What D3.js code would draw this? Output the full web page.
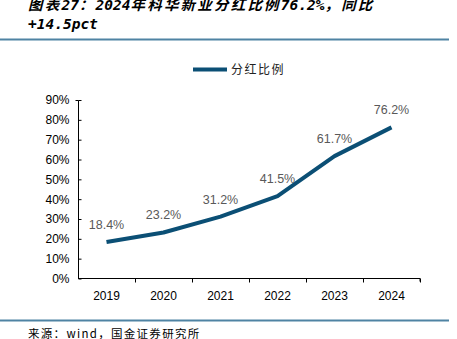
<!DOCTYPE html>
<html><head><meta charset="utf-8">
<script src="https://cdn.jsdelivr.net/npm/d3@7/dist/d3.min.js"></script>
<style>body{margin:0;background:#fff}svg{display:block}</style>
</head><body><svg id="c" width="457" height="339"></svg>
<script>
const categories = ["2019","2020","2021","2022","2023","2024"];
const values = [18.4, 23.2, 31.2, 41.5, 61.7, 76.2];
const yTicks = [0,10,20,30,40,50,60,70,80,90];
const seriesName = "分红比例";
const titleLines = ["图表27：2024年科华新业分红比例76.2%，同比", "+14.5pct"];
const source = "来源：wind，国金证券研究所";

const svg = d3.select("#c");
const x = d3.scaleBand().domain(categories).range([78, 420]);
const y = d3.scaleLinear().domain([0, 90]).range([278.5, 100]);

// title, split into CJK / latin runs
function runs(s) {
  const out = []; let cur = "", cjk = null;
  for (const ch of s) {
    const isC = /[^\x00-\x7f]/.test(ch);
    if (cjk === null || isC === cjk) { cur += ch; cjk = isC; }
    else { out.push({t: cur, c: cjk}); cur = ch; cjk = isC; }
  }
  if (cur) out.push({t: cur, c: cjk});
  return out;
}
svg.selectAll("text.title").data(titleLines).join("text").attr("class","title")
  .attr("x", 28).attr("y", (d,i) => 10 + i*18.5)
  .attr("font-family", "'DejaVu Sans Mono', 'Noto Sans CJK SC', monospace")
  .attr("font-weight", "bold").attr("font-style", "italic")
  .attr("font-size", 14.5).attr("fill", "#000")
  .each(function(d) {
    d3.select(this).selectAll("tspan").data(runs(d)).join("tspan")
      .attr("font-family", r => r.c ? "'Noto Sans CJK SC', sans-serif" : "'DejaVu Sans Mono', monospace")
      .attr("letter-spacing", r => r.c ? 2.2 : 0)
      .text(r => r.t);
  });

// rules
svg.append("line").attr("x1",0).attr("x2",449).attr("y1",39.5).attr("y2",39.5)
  .attr("stroke","#4f83a3").attr("stroke-width",2);
svg.append("line").attr("x1",0).attr("x2",449).attr("y1",320.5).attr("y2",320.5)
  .attr("stroke","#4f83a3").attr("stroke-width",2);

// source
svg.append("text").attr("x", 28).attr("y", 337.5)
  .attr("font-family", "'Noto Sans CJK SC', sans-serif")
  .attr("font-size", 11.5).attr("letter-spacing", 1.3).attr("fill", "#000").text(source);

// legend
svg.append("line").attr("x1",193).attr("x2",227).attr("y1",69.5).attr("y2",69.5)
  .attr("stroke","#0b4f75").attr("stroke-width",4);
svg.append("text").attr("x",231).attr("y",74)
  .attr("font-family", "'Noto Sans CJK SC', sans-serif")
  .attr("font-size", 12).attr("letter-spacing", 1.5).attr("fill", "#222").text(seriesName);

// axes
const yAxis = d3.axisLeft(y).tickValues(yTicks).tickFormat(d => d + "%").tickSize(-3).tickPadding(9);
const gy = svg.append("g").attr("transform","translate(78.5,0)").call(yAxis);
gy.selectAll("text").attr("font-family","Arial, 'Liberation Sans', sans-serif").attr("font-size",12).attr("fill","#000");
gy.select(".domain").attr("stroke","#000").attr("d","M-3,100.5H0V278.5");
gy.selectAll(".tick line").attr("stroke","#000");

const xAxis = d3.axisBottom(x).tickSize(0).tickPadding(13);
const gx = svg.append("g").attr("transform","translate(0,278.5)").call(xAxis);
gx.selectAll("text").attr("font-family","Arial, 'Liberation Sans', sans-serif").attr("font-size",12).attr("fill","#000");
gx.select(".domain").attr("stroke","#000").attr("d","M78,0H420V3");
const bounds = categories.map(c => x(c)).concat([420]);
gx.selectAll("line.sep").data(bounds.slice(1)).join("line").attr("class","sep")
  .attr("x1", d => Math.round(d)+0.5).attr("x2", d => Math.round(d)+0.5)
  .attr("y1", 0).attr("y2", 4).attr("stroke","#000");

// line
const pts = categories.map((c,i) => [x(c) + x.bandwidth()/2, y(values[i])]);
svg.append("path").datum(pts)
  .attr("d", d3.line())
  .attr("fill","none").attr("stroke","#0b4f75").attr("stroke-width",4)
  .attr("stroke-linejoin","round").attr("stroke-linecap","butt");

// labels
svg.selectAll("text.lbl").data(pts).join("text").attr("class","lbl")
  .attr("x", d => d[0]).attr("y", d => d[1] - 13)
  .attr("text-anchor","middle")
  .attr("font-family","Arial, 'Liberation Sans', sans-serif").attr("font-size",12.5)
  .attr("fill","#595959").text((d,i) => values[i].toFixed(1) + "%");
</script></body></html>
